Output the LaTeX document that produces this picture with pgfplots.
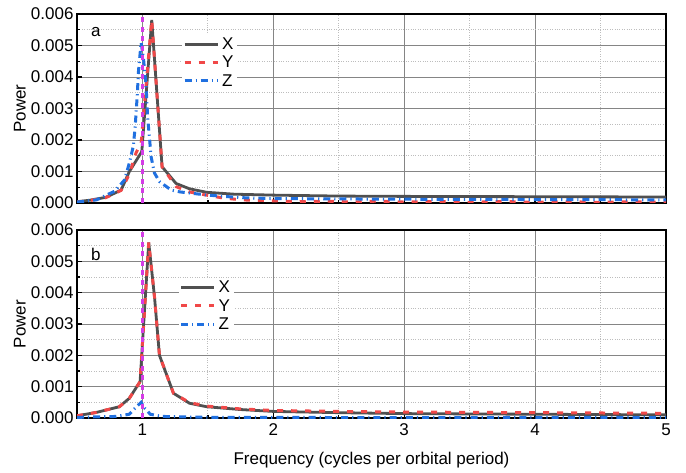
\documentclass[border=0pt]{standalone}
\usepackage{fontspec}
\setmainfont{Liberation Sans}
\usepackage{pgfplots}
\pgfplotsset{compat=1.18}
\definecolor{cX}{HTML}{505050}
\definecolor{cY}{HTML}{F04848}
\definecolor{cZ}{HTML}{2070E0}
\definecolor{cM}{HTML}{D43CE6}
\definecolor{gmaj}{HTML}{858585}
\definecolor{gmin}{HTML}{BDBDBD}
\pgfplotsset{
  panel/.style={
    scale only axis, width=589pt,
    xmin=0.5, xmax=5, ymin=0, ymax=0.006,
    xtick={1,2,3,4,5}, ytick={0,0.001,0.002,0.003,0.004,0.005,0.006},
    minor x tick num=1, minor y tick num=1,
    grid=both,
    major grid style={gmaj, line width=1pt},
    minor grid style={gmin, dotted, line width=1pt},
    axis line style={black, line width=2.4pt},
    tick align=inside, tickpos=left,
    major tick length=5pt, minor tick length=3pt,
    tick style={black, line width=1.3pt},
    font=\fontsize{17}{20}\selectfont,
    /pgf/number format/assume math mode=true,
    yticklabel style={/pgf/number format/.cd, fixed, fixed zerofill, precision=3},
    scaled y ticks=false,
    xticklabel style={yshift=-2pt},
    ylabel={Power},
    ylabel style={at={(axis description cs:-0.097,0.5)}, anchor=center},
    legend cell align=left,
    legend style={draw=none, fill=white, inner sep=1pt, row sep=1pt,
      nodes={inner ysep=2pt, inner xsep=3pt}, font=\fontsize{17}{20}\selectfont},
    legend image code/.code={\draw[##1] (0pt,0pt) -- (33pt,0pt);},
  },
  sX/.style={cX, line width=2.8pt},
  sY/.style={cY, line width=3pt, dash pattern=on 6pt off 8pt},
  sZ/.style={cZ, line width=3pt, dash pattern=on 7pt off 4pt on 1.2pt off 4pt},
  sM/.style={cM, line width=3pt, dash pattern=on 5pt off 4.5pt},
}
\begin{document}
\begin{tikzpicture}
\useasboundingbox (0,0) rectangle (686pt,472pt);
% ---------------- panel a ----------------
\begin{axis}[panel, at={(77pt,269pt)}, anchor=south west, height=189pt,
  xticklabels={},
  legend style={at={(0.178,0.89)}, anchor=north west}]
\addplot[sX] coordinates {
(0.5,0.00004) (0.6,0.00009) (0.72,0.00018) (0.837,0.00041) (0.90,0.00100)
(0.995,0.00163) (1.071,0.00581) (1.15,0.00115) (1.257,0.00062) (1.36,0.00045)
(1.49,0.00034) (1.7,0.00028) (2.0,0.00025) (2.5,0.00022) (3.0,0.00021)
(4.0,0.00020) (5.0,0.00019)};
\addlegendentry{X}
\addplot[sY] coordinates {
(0.5,0.00003) (0.6,0.00008) (0.72,0.00017) (0.837,0.00040) (0.90,0.00092)
(0.952,0.00160) (0.99,0.00190) (1.071,0.00581) (1.15,0.00115) (1.257,0.00052)
(1.36,0.00035) (1.49,0.00025) (1.6,0.00017) (1.75,0.00010) (2.0,0.00007)
(2.2,0.00004) (2.4,0.00006) (2.6,0.00003) (2.8,0.00006) (3.0,0.00003)
(3.25,0.00005) (3.5,0.00002) (3.75,0.00005) (4.0,0.00002) (4.25,0.00004)
(4.5,0.00002) (4.75,0.00004) (5.0,0.00002)};
\addlegendentry{Y}
\addplot[sZ] coordinates {
(0.5,0.00003) (0.65,0.00010) (0.79,0.00038) (0.863,0.00073) (0.90,0.00127)
(0.93,0.00180) (0.944,0.00240) (0.96,0.00340) (0.97,0.00420) (0.99,0.00510)
(1.01,0.00450) (1.028,0.00370) (1.04,0.00270) (1.053,0.00210) (1.066,0.00147)
(1.092,0.00095) (1.13,0.00068) (1.22,0.00041) (1.29,0.00035) (1.5,0.00025)
(1.75,0.00017) (2.0,0.00014) (3.0,0.00012) (4.0,0.00011) (5.0,0.00010)};
\addlegendentry{Z}
\addplot[sM, forget plot] coordinates {(1,0) (1,0.006)};
\node[anchor=center] at (rel axis cs:0.032,0.905) {a};
\end{axis}
% ---------------- panel b ----------------
\begin{axis}[panel, at={(77pt,54pt)}, anchor=south west, height=188pt,
  xlabel={Frequency (cycles per orbital period)},
  xlabel style={at={(axis description cs:0.5,-0.223)}, anchor=center},
  legend style={at={(0.172,0.745)}, anchor=north west}]
\addplot[sX] coordinates {
(0.5,0.00007) (0.65,0.00018) (0.824,0.00036) (0.90,0.00063) (0.982,0.00116)
(1.048,0.00560) (1.092,0.00387) (1.13,0.00200) (1.237,0.00079) (1.36,0.00047)
(1.49,0.00036) (1.75,0.00027) (2.0,0.00021) (2.5,0.00017) (3.0,0.00014)
(4.0,0.00012) (5.0,0.00010)};
\addlegendentry{X}
\addplot[sY] coordinates {
(0.5,0.00007) (0.65,0.00018) (0.824,0.00036) (0.90,0.00063) (0.982,0.00116)
(1.048,0.00560) (1.092,0.00387) (1.13,0.00200) (1.237,0.00079) (1.36,0.00049)
(1.49,0.00038) (1.75,0.00029) (2.0,0.00024) (2.5,0.00021) (3.0,0.00019)
(4.0,0.00017) (5.0,0.00015)};
\addlegendentry{Y}
\addplot[sZ] coordinates {
(0.5,0.00002) (0.8,0.00005) (0.9,0.00012) (0.94,0.00030) (0.99,0.00050)
(1.02,0.00030) (1.06,0.00012) (1.15,0.00005) (1.5,0.00002) (2.0,0.00002)
(3.0,0.00001) (4.0,0.00001) (5.0,0.00001)};
\addlegendentry{Z}
\addplot[sM, forget plot] coordinates {(1,0) (1,0.006)};
\node[anchor=center] at (rel axis cs:0.032,0.872) {b};
\end{axis}
\end{tikzpicture}
\end{document}
